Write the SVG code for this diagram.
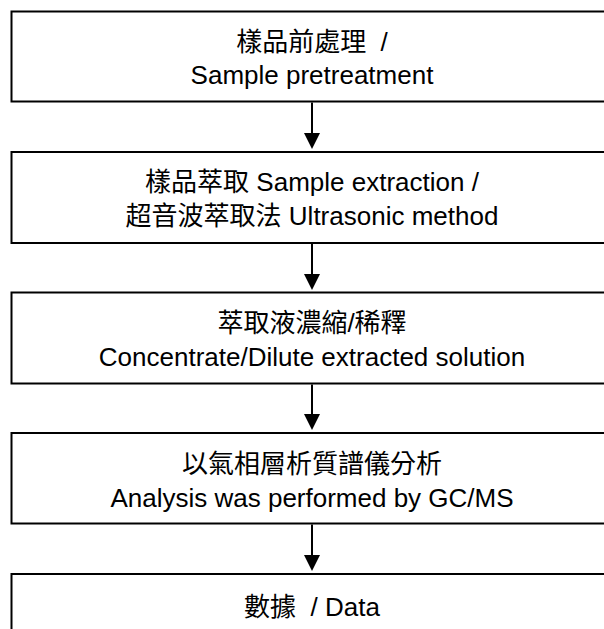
<svg xmlns="http://www.w3.org/2000/svg" width="604" height="629" viewBox="0 0 604 629">
  <defs>
    <style>
      .box { fill: #fff; stroke: #000; stroke-width: 2; }
      .t { font-family: "Liberation Sans", "Noto Sans CJK TC", sans-serif; font-size: 26px; fill: #000; text-anchor: middle; }
      .conn { stroke: #000; stroke-width: 2; fill: none; }
      .head { fill: #000; }
    </style>
  </defs>
  <rect width="604" height="629" fill="#fff"/>
  <g id="n1">
    <rect class="box" x="11.5" y="11.5" width="602" height="90"/>
    <text class="t" x="312" y="51">樣品前處理&#160;&#160;/</text>
    <text class="t" x="312" y="84">Sample pretreatment</text>
  </g>
  <g id="n2">
    <rect class="box" x="11.5" y="152" width="602" height="91"/>
    <text class="t" x="312" y="191">樣品萃取 Sample extraction /</text>
    <text class="t" x="312" y="225">超音波萃取法 Ultrasonic method</text>
  </g>
  <g id="n3">
    <rect class="box" x="11.5" y="292.5" width="602" height="91"/>
    <text class="t" x="312" y="332">萃取液濃縮/稀釋</text>
    <text class="t" x="312" y="366">Concentrate/Dilute extracted solution</text>
  </g>
  <g id="n4">
    <rect class="box" x="11.5" y="433" width="602" height="90.5"/>
    <text class="t" x="312" y="473">以氣相層析質譜儀分析</text>
    <text class="t" x="312" y="507">Analysis was performed by GC/MS</text>
  </g>
  <g id="n5">
    <rect class="box" x="11.5" y="574" width="602" height="80"/>
    <text class="t" x="312" y="616">數據&#160;&#160;/ Data</text>
  </g>
  <g id="connectors">
    <line class="conn" x1="312" y1="102.5" x2="312" y2="134"/>
    <path class="head" d="M304,133 L320,133 L312,149 Z"/>
    <line class="conn" x1="312" y1="244" x2="312" y2="275"/>
    <path class="head" d="M304,274 L320,274 L312,290 Z"/>
    <line class="conn" x1="312" y1="384.5" x2="312" y2="415"/>
    <path class="head" d="M304,414 L320,414 L312,430 Z"/>
    <line class="conn" x1="312" y1="524.5" x2="312" y2="556"/>
    <path class="head" d="M304,555 L320,555 L312,571 Z"/>
  </g>
</svg>
